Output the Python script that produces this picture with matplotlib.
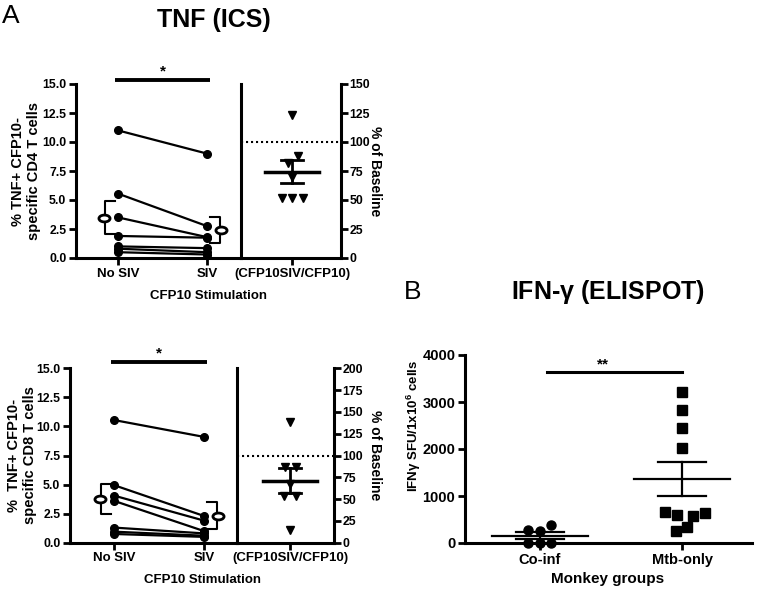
import numpy as np
import matplotlib
matplotlib.use('Agg')
import matplotlib.pyplot as plt
from matplotlib.path import Path
from matplotlib.transforms import Affine2D

plt.rcParams['font.family'] = ['Liberation Sans', 'DejaVu Sans']
plt.rcParams['font.weight'] = 'bold'
plt.rcParams['mathtext.fontset'] = 'custom'
plt.rcParams['mathtext.rm'] = 'Liberation Sans:bold'
plt.rcParams['mathtext.bf'] = 'Liberation Sans:bold'
plt.rcParams['mathtext.it'] = 'Liberation Sans'

# ---------------- data ----------------
conditions = ['No SIV', 'SIV']
ratio_label = '(CFP10SIV/CFP10)'
cd4_nosiv = [11.0, 5.55, 3.5, 1.9, 1.0, 0.8, 0.5]
cd4_siv = [9.0, 2.75, 1.8, 1.75, 0.85, 0.5, 0.3]
cd4_pct = [123, 88, 82, 70, 52, 52, 52]
cd8_nosiv = [10.55, 4.95, 4.05, 3.6, 1.3, 0.95, 0.75]
cd8_siv = [9.1, 2.3, 1.9, 1.0, 0.8, 0.6, 0.5]
cd8_pct = [138, 87, 87, 67, 53, 53, 14]
groups = ['Co-inf', 'Mtb-only']
coinf = [280, 250, 390, 0, 0, 0]
mtb = [3220, 2820, 2450, 2030, 660, 600, 570, 640, 250, 330]

# jitter (horizontal scatter offsets, layout only)
cd4_jit = [0, 0.06, -0.043, 0, -0.1, 0, 0.107]
cd8_jit = [0, -0.05, 0.057, 0, -0.057, 0.057, 0]
coinf_jit = [-0.085, 0, 0.08, -0.085, 0, 0.08]
mtb_jit = [0, 0, 0, 0, -0.118, -0.035, 0.08, 0.164, -0.04, 0.037]

W, H = 757, 590
fig = plt.figure(figsize=(W / 100, H / 100), dpi=100)

ell = Path.unit_circle().transformed(Affine2D().scale(1.0, 0.62))

TICKFS = 8.8
XTFS = 9.5
LW = 2.2


def mean_sem(v):
    v = np.asarray(v, float)
    return v.mean(), v.std(ddof=1) / np.sqrt(len(v))


def style_ax(ax):
    ax.tick_params(direction='out', length=5, width=2, labelsize=TICKFS, pad=2)
    for s in ax.spines.values():
        s.set_linewidth(LW)


def panel_A(left, div, right, y0, y15, xn, xs, xr, nosiv, siv, pct, jit, rmax,
            ylab, ylab_x, star_px, bar_px):
    unit = xs - xn
    bottom = 1 - y0 / H
    height = (y0 - y15) / H
    axL = fig.add_axes([left / W, bottom, (div - left) / W, height])
    axL.set_xlim((left - xn) / unit, (div - xn) / unit)
    axL.set_ylim(0, 15)
    axL.spines['top'].set_visible(False)
    axL.spines['right'].set_visible(False)
    style_ax(axL)
    axL.set_yticks(np.arange(0, 15.1, 2.5))
    axL.set_yticklabels([f'{t:.1f}' for t in np.arange(0, 15.1, 2.5)])
    axL.set_xticks([0, 1])
    axL.set_xticklabels(conditions, fontsize=XTFS)
    for a, b in zip(nosiv, siv):
        axL.plot([0, 1], [a, b], '-o', color='k', lw=1.6, ms=5.5, clip_on=False, zorder=3)
    # brackets with means
    for vals, xpos, sgn in ((nosiv, 0, -1), (siv, 1, 1)):
        m, s = mean_sem(vals)
        xv = xpos + sgn * 13 / unit
        xc = xpos + sgn * 3 / unit
        axL.plot([xc, xv, xv, xc], [m + s, m + s, m - s, m - s], color='k', lw=1.5, zorder=2)
        axL.plot([xpos + sgn * 14 / unit], [m], marker=ell, ms=8, mfc='white',
                 mec='k', mew=2, ls='none', zorder=4)
    # significance
    ybar = 15 + (y15 - bar_px) / (y0 - y15) * 15
    ystar = 15 + (y15 - star_px) / (y0 - y15) * 15
    axL.plot([-0.03, 1.03], [ybar, ybar], color='k', lw=2.8, clip_on=False, solid_capstyle='butt')
    axL.text(0.5, ystar, '*', ha='center', va='center', fontsize=11)

    axR = fig.add_axes([div / W, bottom, (right - div) / W, height])
    axR.set_xlim((div - xr) / 100, (right - xr) / 100)
    axR.set_ylim(0, rmax)
    axR.spines['top'].set_visible(False)
    style_ax(axR)
    axR.tick_params(axis='y', pad=1)
    axR.yaxis.tick_right()
    axR.set_yticks(np.arange(0, rmax + 1, 25))
    axR.set_xticks([0])
    axR.set_xticklabels([ratio_label], fontsize=XTFS)
    axR.axhline(100, ls=(0, (1, 1.4)), lw=1.5, color='k')
    axR.plot(jit, pct, 'v', color='k', ms=6, ls='none', zorder=3)
    m, s = mean_sem(pct)
    axR.plot([-0.27, 0.27], [m, m], color='k', lw=2.5)
    axR.plot([0, 0], [m - s, m + s], color='k', lw=2)
    axR.plot([-0.11, 0.11], [m + s, m + s], color='k', lw=2)
    axR.plot([-0.11, 0.11], [m - s, m - s], color='k', lw=2)

    yc = 1 - (y0 + y15) / 2 / H
    fig.text(ylab_x / W, yc, ylab, rotation=90, ha='center', va='center',
             fontsize=10.5, linespacing=1.2, multialignment='center')
    fig.text(375 / W, yc, '% of Baseline', rotation=270, ha='center', va='center', fontsize=10)
    return axL, axR


panel_A(76, 241, 341, 258, 84, 118, 207, 292, cd4_nosiv, cd4_siv, cd4_pct, cd4_jit, 150,
        '% TNF+ CFP10-\nspecific CD4 T cells', 26, 71, 79.5)
fig.text(208 / W, 1 - 296 / H, 'CFP10 Stimulation', ha='center', va='center', fontsize=9.5)

panel_A(70, 237, 334, 542.7, 368.3, 114, 204, 290, cd8_nosiv, cd8_siv, cd8_pct, cd8_jit, 200,
        '%  TNF+ CFP10-\nspecific CD8 T cells', 22, 353, 362)
fig.text(203 / W, 1 - 580 / H, 'CFP10 Stimulation', ha='center', va='center', fontsize=9.5)

# titles
fig.text(11 / W, 1 - 16 / H, 'A', ha='center', va='center', fontsize=19, fontweight='normal')
fig.text(214 / W, 1 - 20 / H, 'TNF (ICS)', ha='center', va='center', fontsize=18)
fig.text(413 / W, 1 - 292 / H, 'B', ha='center', va='center', fontsize=19, fontweight='normal')
fig.text(608 / W, 1 - 292 / H, r'IFN-$\gamma$ (ELISPOT)', ha='center', va='center', fontsize=18)

# ---------------- panel B ----------------
bl, br, b0, b4k, xc, xm = 465, 752, 543, 355, 540, 682
u = xm - xc
axB = fig.add_axes([bl / W, 1 - b0 / H, (br - bl) / W, (b0 - b4k) / H])
axB.set_xlim((bl - xc) / u, (br - xc) / u)
axB.set_ylim(0, 4000)
axB.spines['top'].set_visible(False)
axB.spines['right'].set_visible(False)
style_ax(axB)
axB.tick_params(labelsize=10.5)
axB.set_yticks(np.arange(0, 4001, 1000))
axB.set_xticks([0, 1])
axB.set_xticklabels(groups, fontsize=10.5)
axB.plot(np.array(coinf_jit), coinf, 'o', color='k', ms=6.5, ls='none', clip_on=False, zorder=3)
axB.plot(1 + np.array(mtb_jit), mtb, 's', color='k', ms=6.5, ls='none', clip_on=False, zorder=3)
for vals, xpos in ((coinf, 0), (mtb, 1)):
    m, s = mean_sem(vals)
    axB.plot([xpos - 0.335, xpos + 0.335], [m, m], color='k', lw=1.6, zorder=4)
    axB.plot([xpos, xpos], [m - s, m + s], color='k', lw=1.6, zorder=4)
    axB.plot([xpos - 0.17, xpos + 0.17], [m + s, m + s], color='k', lw=1.6, zorder=4)
    axB.plot([xpos - 0.17, xpos + 0.17], [m - s, m - s], color='k', lw=1.6, zorder=4)
axB.plot([0.047, 1.0], [3645, 3645], color='k', lw=2.2, clip_on=False)
axB.text(0.44, 3800, '**', ha='center', va='center', fontsize=11)
fig.text(414 / W, 1 - 426 / H, r'IFN$\gamma$ SFU/1x10$^{\mathbf{6}}$ cells', rotation=90,
         ha='center', va='center', fontsize=9.5)
fig.text(608 / W, 1 - 579 / H, 'Monkey groups', ha='center', va='center', fontsize=11)

fig.savefig('out.png', dpi=100)
